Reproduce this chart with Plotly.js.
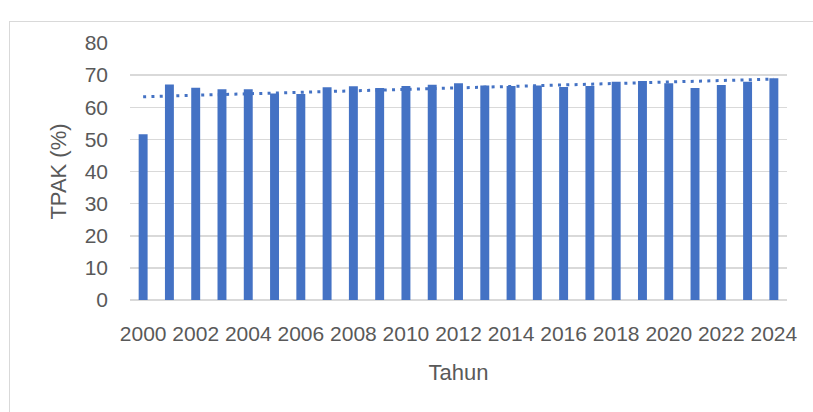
<!DOCTYPE html>
<html>
<head>
<meta charset="utf-8">
<script src="https://cdn.plot.ly/plotly-3.0.1.min.js"></script>
<style>
  html, body { margin: 0; padding: 0; background: #ffffff; }
  #frame { position: absolute; left: 9px; top: 21px; width: 900px; height: 500px; border: 1px solid #d9d9d9; }
  #chart { position: absolute; left: 0; top: 0; width: 813px; height: 412px; }
</style>
</head>
<body>
<div id="frame"></div>
<div id="chart"></div>
<script>
const years = ["2000","2001","2002","2003","2004","2005","2006","2007","2008","2009","2010","2011","2012",
               "2013","2014","2015","2016","2017","2018","2019","2020","2021","2022","2023","2024"];
const tpak = [51.6, 67.1, 66.1, 65.6, 65.6, 64.3, 64.1, 66.2, 66.5, 66.0, 66.6, 67.0, 67.5,
              66.8, 66.6, 66.8, 66.3, 66.6, 67.9, 68.2, 67.5, 66.0, 66.9, 67.9, 69.0];
const xTickLabels = ["2000","2002","2004","2006","2008","2010","2012","2014","2016","2018","2020","2022","2024"];
const yTicks = [0, 10, 20, 30, 40, 50, 60, 70, 80];

// Linear trendline (least squares), as the spreadsheet computes it
const n = tpak.length;
const idx = tpak.map((_, i) => i + 1);
const mx = idx.reduce((a, b) => a + b, 0) / n;
const my = tpak.reduce((a, b) => a + b, 0) / n;
let sxy = 0, sxx = 0;
for (let i = 0; i < n; i++) { sxy += (idx[i] - mx) * (tpak[i] - my); sxx += (idx[i] - mx) * (idx[i] - mx); }
const slope = sxy / sxx;
const intercept = my - slope * mx;
const trend = idx.map(x => intercept + slope * x);

const blue = "#4472C4";
const textColor = "#595959";
const font = "Liberation Sans, Arial, sans-serif";

const data = [
  { type: "bar", x: years, y: tpak, marker: { color: blue }, hoverinfo: "x+y", showlegend: false },
  { type: "scatter", mode: "lines", x: years, y: trend,
    line: { color: blue, width: 3, dash: "3px,5.3px" }, showlegend: false, hoverinfo: "skip" }
];

const layout = {
  width: 813, height: 412,
  margin: { l: 130, r: 26, t: 43, b: 112 },
  paper_bgcolor: "rgba(0,0,0,0)",
  plot_bgcolor: "rgba(0,0,0,0)",
  bargap: 0.66,
  font: { family: font, color: textColor, size: 21 },
  xaxis: {
    type: "category",
    tickmode: "array", tickvals: xTickLabels, ticktext: xTickLabels,
    showgrid: false, zeroline: false, showline: false, ticks: "",
    tickfont: { size: 21, color: textColor },
    ticklabelstandoff: 19,
    title: { text: "Tahun", font: { size: 22, color: textColor }, standoff: 20 },
    automargin: false
  },
  yaxis: {
    range: [0, 80],
    tickmode: "array", tickvals: yTicks,
    showgrid: true, gridcolor: "#d9d9d9", gridwidth: 1.5,
    zeroline: true, zerolinecolor: "#d9d9d9", zerolinewidth: 1.5,
    showline: false, ticks: "",
    tickfont: { size: 21, color: textColor },
    ticklabelstandoff: 21,
    title: { text: "TPAK (%)", font: { size: 22, color: textColor }, standoff: 11 },
    automargin: false
  }
};

Plotly.newPlot("chart", data, layout, { displayModeBar: false, staticPlot: true });
</script>
</body>
</html>
